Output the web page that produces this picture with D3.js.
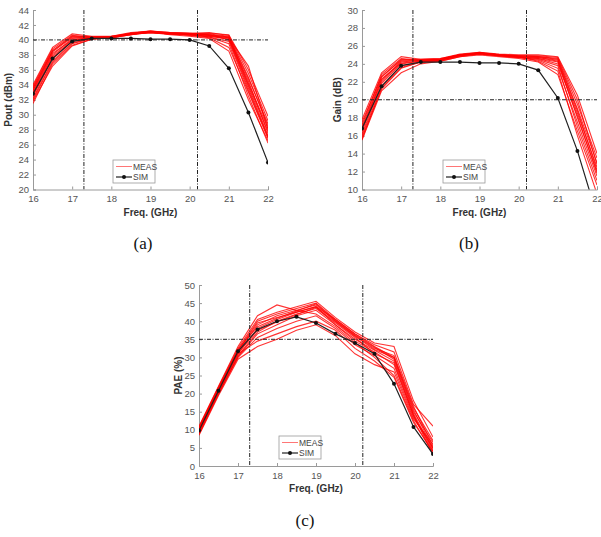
<!DOCTYPE html>
<html>
<head>
<meta charset="utf-8">
<script src="https://cdn.jsdelivr.net/npm/d3@7"></script>
<style>
  body { margin: 0; background: #fff; }
  svg { display: block; font-family: "Liberation Sans", Arial, sans-serif; }
</style>
</head>
<body>
<svg id="chart" width="601" height="537"></svg>
<script>
// frequency points (GHz)
const freq = [16, 16.5, 17, 17.5, 18, 18.5, 19, 19.5, 20, 20.5, 21, 21.5, 22];
const xTicks = [16, 17, 18, 19, 20, 21, 22];
const bandEdges = [17.3, 20.2];

// (a) output power, dBm
const poutSim = [32.8, 37.5, 39.8, 40.2, 40.2, 40.2, 40.1, 40.1, 40.0, 39.2, 36.2, 30.3, 23.6];
const poutMeas = [
  [33.5, 38.5, 40.5, 40.4, 40.4, 40.8, 41.0, 40.8, 40.7, 40.5, 40.2, 34.5, 27.5],
  [32.0, 37.0, 39.5, 40.2, 40.3, 40.7, 41.1, 40.9, 40.8, 40.7, 40.0, 33.5, 27.0],
  [33.0, 38.0, 40.2, 40.3, 40.4, 40.9, 41.2, 41.0, 40.9, 40.8, 40.5, 35.0, 28.5],
  [31.8, 36.5, 39.2, 40.1, 40.3, 40.8, 41.0, 40.8, 40.7, 40.4, 39.5, 32.5, 26.2],
  [34.0, 39.0, 40.8, 40.5, 40.5, 41.0, 41.2, 40.9, 40.8, 40.9, 40.7, 36.0, 29.8],
  [32.5, 37.5, 39.8, 40.2, 40.4, 40.9, 41.1, 40.9, 40.8, 40.6, 40.3, 34.0, 27.8],
  [33.2, 38.2, 40.0, 40.3, 40.3, 40.7, 41.0, 40.8, 40.6, 40.3, 39.0, 33.0, 26.8],
  [32.2, 37.2, 39.6, 40.2, 40.4, 40.8, 41.1, 41.0, 40.9, 40.7, 40.4, 34.8, 28.8],
  [33.8, 38.8, 40.6, 40.4, 40.5, 40.8, 41.0, 40.7, 40.5, 40.2, 38.5, 32.0, 26.5],
  [32.8, 37.8, 40.0, 40.3, 40.4, 40.9, 41.2, 41.0, 40.9, 41.0, 40.6, 35.5, 29.2],
  [31.5, 36.8, 39.3, 40.1, 40.3, 40.7, 41.0, 40.8, 40.7, 40.5, 40.1, 33.8, 27.2],
  [33.3, 38.4, 40.3, 40.4, 40.5, 40.9, 41.1, 40.9, 40.8, 40.6, 40.3, 36.5, 28.0],
  [32.6, 37.6, 39.9, 40.2, 40.4, 40.8, 41.1, 40.9, 40.8, 40.7, 40.4, 34.2, 28.2],
  [33.6, 38.6, 40.4, 40.4, 40.4, 40.8, 41.0, 40.8, 40.7, 40.4, 39.8, 33.2, 27.0]
];
const poutTicks = [20, 22, 24, 26, 28, 30, 32, 34, 36, 38, 40, 42, 44];

// (b) gain, dB
const gainSim = [16.8, 21.5, 23.8, 24.2, 24.2, 24.2, 24.1, 24.1, 24.0, 23.3, 20.2, 14.3, 7.1];
const gainMeas = [
  [17.0, 22.5, 24.5, 24.4, 24.5, 25.0, 25.2, 25.0, 24.8, 24.6, 24.2, 18.5, 12.5],
  [15.8, 21.2, 23.5, 24.2, 24.4, 24.9, 25.1, 24.9, 24.7, 24.4, 23.5, 17.5, 11.5],
  [16.5, 22.0, 24.2, 24.4, 24.5, 25.0, 25.3, 25.0, 24.9, 24.8, 24.5, 19.0, 13.0],
  [15.5, 21.0, 23.0, 24.0, 24.3, 24.8, 25.0, 24.8, 24.6, 24.2, 22.8, 16.5, 10.5],
  [17.8, 23.0, 24.8, 24.5, 24.6, 25.1, 25.3, 25.1, 25.0, 25.0, 24.8, 20.5, 14.0],
  [16.2, 21.8, 24.0, 24.3, 24.4, 24.9, 25.2, 25.0, 24.8, 24.7, 24.3, 18.0, 12.0],
  [17.2, 22.8, 24.6, 24.4, 24.5, 25.0, 25.1, 24.9, 24.7, 24.5, 23.8, 17.0, 11.0],
  [16.0, 21.5, 23.8, 24.2, 24.4, 24.9, 25.2, 25.0, 24.9, 24.8, 24.6, 19.5, 13.5],
  [16.8, 22.2, 24.3, 24.4, 24.5, 25.0, 25.2, 24.9, 24.8, 24.3, 23.2, 16.0, 9.5],
  [17.5, 22.6, 24.4, 24.5, 24.6, 25.0, 25.2, 25.0, 24.9, 24.9, 24.7, 20.0, 12.8],
  [15.6, 21.3, 23.6, 24.2, 24.3, 24.8, 25.1, 24.9, 24.7, 24.6, 24.0, 18.2, 11.8],
  [16.6, 22.3, 24.1, 24.3, 24.5, 24.9, 25.2, 25.0, 24.8, 24.7, 24.4, 18.8, 12.2]
];
const gainTicks = [10, 12, 14, 16, 18, 20, 22, 24, 26, 28, 30];

// (c) PAE, %
const paeSim = [9.8, 20.8, 31.7, 37.7, 40.0, 41.2, 39.5, 36.5, 34.0, 31.0, 22.7, 10.8, 3.3];
const paeMeas = [
  [10.5, 21.5, 32.0, 40.0, 42.0, 43.5, 45.0, 40.5, 36.5, 33.0, 30.0, 15.5, 5.0],
  [9.0, 20.0, 30.5, 37.0, 40.0, 42.0, 43.5, 39.5, 35.5, 31.0, 28.5, 14.0, 4.0],
  [11.0, 22.0, 33.0, 41.5, 44.5, 43.0, 42.0, 38.5, 34.0, 30.0, 25.0, 12.5, 3.5],
  [8.5, 19.5, 29.5, 33.0, 35.0, 37.5, 39.0, 36.0, 31.0, 28.0, 26.0, 13.0, 6.0],
  [10.0, 21.0, 31.5, 39.0, 41.5, 43.0, 44.5, 40.0, 36.0, 32.5, 30.5, 16.5, 5.5],
  [9.5, 20.5, 31.0, 38.0, 40.5, 42.5, 44.0, 39.0, 35.0, 32.0, 29.0, 14.5, 4.5],
  [10.8, 21.8, 32.5, 40.5, 42.5, 44.0, 45.5, 41.0, 37.0, 34.0, 33.0, 18.0, 8.0],
  [9.2, 20.2, 30.0, 35.5, 38.0, 40.0, 41.5, 38.0, 33.5, 30.5, 27.0, 13.5, 5.0],
  [10.2, 21.2, 31.8, 39.5, 41.0, 42.5, 44.0, 40.5, 36.5, 33.5, 31.5, 17.0, 11.0],
  [8.8, 19.8, 30.2, 36.5, 39.0, 41.5, 43.0, 39.0, 34.5, 31.5, 28.0, 14.0, 3.2],
  [10.6, 21.6, 32.2, 38.5, 40.8, 42.8, 44.8, 40.2, 36.2, 32.8, 29.5, 15.0, 6.5],
  [9.6, 20.6, 31.2, 37.5, 39.8, 41.8, 43.8, 39.8, 35.8, 32.2, 30.0, 16.0, 7.0],
  [9.9, 20.9, 31.0, 34.5, 36.5, 38.5, 40.0, 37.5, 32.5, 29.0, 24.5, 12.0, 4.0]
];
const paeTicks = [0, 5, 10, 15, 20, 25, 30, 35, 40, 45, 50];

const svg = d3.select("#chart");

function drawPanel(cfg) {
  const x = d3.scaleLinear().domain([16, 22]).range([cfg.left, cfg.right]);
  const y = d3.scaleLinear().domain(cfg.yDomain).range([cfg.bottom, cfg.top]);
  const g = svg.append("g");

  g.append("clipPath").attr("id", cfg.id)
    .append("rect")
    .attr("x", cfg.left).attr("y", cfg.top)
    .attr("width", cfg.right - cfg.left).attr("height", cfg.bottom - cfg.top);

  // axes (left + bottom only, no box)
  const xAxis = g.append("g")
    .attr("transform", `translate(0,${cfg.bottom})`)
    .call(d3.axisBottom(x).tickValues(xTicks).tickFormat(d3.format("d")).tickSize(-3).tickPadding(6));
  const yAxis = g.append("g")
    .attr("transform", `translate(${cfg.left},0)`)
    .call(d3.axisLeft(y).tickValues(cfg.yTicks).tickFormat(d3.format("d")).tickSize(-3).tickPadding(4));
  [xAxis, yAxis].forEach(a => {
    a.select(".domain").attr("stroke", "#9a9a9a");
    a.selectAll(".tick line").attr("stroke", "#9a9a9a");
    a.selectAll("text").attr("fill", "#555").attr("font-size", 9.5);
  });

  const plot = g.append("g").attr("clip-path", `url(#${cfg.id})`);
  const line = d3.line().x((d, i) => x(freq[i])).y(d => y(d));

  // measured curves
  plot.selectAll("path.meas")
    .data(cfg.meas)
    .enter()
    .append("path")
    .attr("class", "meas")
    .attr("d", line)
    .attr("fill", "none")
    .attr("stroke", "#ff0000")
    .attr("stroke-opacity", 0.8)
    .attr("stroke-width", 1.1);

  // spec lines
  const dash = "4,1.5,1,1.5";
  plot.selectAll("line.vert")
    .data(bandEdges)
    .enter()
    .append("line")
    .attr("x1", d => x(d)).attr("x2", d => x(d))
    .attr("y1", cfg.top).attr("y2", cfg.bottom)
    .attr("stroke", "#222").attr("stroke-width", 1)
    .attr("stroke-dasharray", dash);
  plot.append("line")
    .attr("x1", cfg.left).attr("x2", x(22))
    .attr("y1", y(cfg.spec)).attr("y2", y(cfg.spec))
    .attr("stroke", "#222").attr("stroke-width", 1)
    .attr("stroke-dasharray", dash);

  // simulated curve
  plot.append("path")
    .datum(cfg.sim)
    .attr("d", line)
    .attr("fill", "none")
    .attr("stroke", "#222")
    .attr("stroke-width", 1.2);
  plot.selectAll("circle.sim")
    .data(cfg.sim)
    .enter()
    .append("circle")
    .attr("cx", (d, i) => x(freq[i]))
    .attr("cy", d => y(d))
    .attr("r", 2)
    .attr("fill", "#111");

  // labels
  g.append("text")
    .attr("x", (cfg.left + cfg.right) / 2)
    .attr("y", cfg.bottom + 26)
    .attr("text-anchor", "middle")
    .attr("font-size", 10).attr("font-weight", "bold").attr("fill", "#333")
    .text("Freq. (GHz)");
  g.append("text")
    .attr("transform", `translate(${cfg.yLabelX},${(cfg.top + cfg.bottom) / 2}) rotate(-90)`)
    .attr("text-anchor", "middle")
    .attr("font-size", 10).attr("font-weight", "bold").attr("fill", "#333")
    .text(cfg.yLabel);

  // legend
  const lg = g.append("g").attr("transform", `translate(${cfg.legend[0]},${cfg.legend[1]})`);
  lg.append("rect").attr("width", 42).attr("height", 23)
    .attr("fill", "#fff").attr("stroke", "#999").attr("stroke-width", 0.8);
  lg.append("line").attr("x1", 3).attr("x2", 19).attr("y1", 6.5).attr("y2", 6.5)
    .attr("stroke", "#ff0000").attr("stroke-opacity", 0.6).attr("stroke-width", 0.9);
  lg.append("text").attr("x", 20).attr("y", 9.5).attr("font-size", 8.5).attr("fill", "#444").text("MEAS");
  lg.append("line").attr("x1", 3).attr("x2", 19).attr("y1", 17).attr("y2", 17)
    .attr("stroke", "#222").attr("stroke-width", 1.2);
  lg.append("circle").attr("cx", 11).attr("cy", 17).attr("r", 2).attr("fill", "#111");
  lg.append("text").attr("x", 20).attr("y", 20).attr("font-size", 8.5).attr("fill", "#444").text("SIM");

  // caption
  svg.append("text")
    .attr("x", cfg.caption[0]).attr("y", cfg.caption[1])
    .attr("text-anchor", "middle")
    .attr("font-family", "'Liberation Serif', 'Times New Roman', serif")
    .attr("font-size", 17).attr("fill", "#111")
    .text(cfg.captionText);
}

drawPanel({
  id: "clipA", left: 33, right: 268, top: 10, bottom: 189.5,
  yDomain: [20, 44], yTicks: poutTicks, spec: 40,
  meas: poutMeas, sim: poutSim, yLabel: "Pout (dBm)", yLabelX: 12,
  legend: [113, 160], caption: [143, 249], captionText: "(a)"
});
drawPanel({
  id: "clipB", left: 362, right: 597, top: 10, bottom: 189.5,
  yDomain: [10, 30], yTicks: gainTicks, spec: 20,
  meas: gainMeas, sim: gainSim, yLabel: "Gain (dB)", yLabelX: 341,
  legend: [443, 160], caption: [469, 249], captionText: "(b)"
});
drawPanel({
  id: "clipC", left: 199, right: 433, top: 285, bottom: 466,
  yDomain: [0, 50], yTicks: paeTicks, spec: 35,
  meas: paeMeas, sim: paeSim, yLabel: "PAE (%)", yLabelX: 182,
  legend: [279, 436], caption: [305, 526], captionText: "(c)"
});
</script>
</body>
</html>
